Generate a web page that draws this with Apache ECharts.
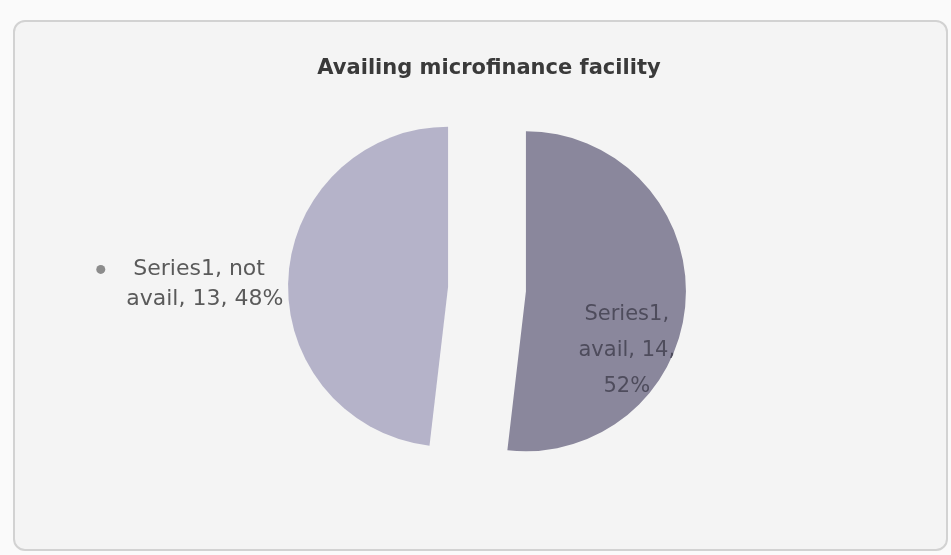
<!DOCTYPE html>
<html>
<head>
<meta charset="utf-8">
<title>Availing microfinance facility</title>
<script src="https://cdn.jsdelivr.net/npm/echarts@6/dist/echarts.min.js"></script>
<style>
  html, body { margin: 0; padding: 0; background: #fafafa; }
  #frame {
    position: absolute; left: 13px; top: 20px; width: 931px; height: 527px;
    border: 2px solid #d2d2d2; border-radius: 12px; background: #f4f4f4;
  }
  #chart { position: absolute; left: 0; top: 0; width: 951px; height: 555px; }
</style>
</head>
<body>
<div id="frame"></div>
<div id="chart"></div>
<script>
// Survey answers: how many respondents avail a microfinance facility
const seriesName = 'Series1';
const categories = ['avail', 'not avail'];
const counts = [14, 13];
const sliceColors = ['#8a879c', '#b5b3c9'];

const chart = echarts.init(document.getElementById('chart'));

const data = categories.map((name, i) => ({
  name: name,
  value: counts[i],
  selected: true,
  itemStyle: { color: sliceColors[i] }
}));

// Inside label for the first slice, outside label with key marker for the second
data[0].label = {
  position: 'inside',
  formatter: p => p.seriesName + ',\n' + p.name + ', ' + p.value + ',\n' + Math.round(p.percent) + '%',
  color: '#4e4c5c',
  fontSize: 21,
  lineHeight: 36,
  fontFamily: 'DejaVu Sans',
  align: 'center'
};
data[1].label = {
  position: 'outside',
  formatter: p => '{m|}{t|' + p.seriesName + ', ' + p.name.split(' ')[0] + '}\n{u|' +
    p.name.split(' ')[1] + ', ' + p.value + ', ' + Math.round(p.percent) + '%}',
  rich: {
    m: { width: 9, height: 9, borderRadius: 5, backgroundColor: '#8c8c8c', align: 'left' },
    t: { fontSize: 22, color: '#5a5a5a', fontFamily: 'DejaVu Sans', padding: [0, 0, 0, 28], align: 'left', lineHeight: 30 },
    u: { fontSize: 22, color: '#5a5a5a', fontFamily: 'DejaVu Sans', padding: [0, 0, 0, 30], align: 'left', lineHeight: 30 }
  }
};

chart.setOption({
  animation: false,
  title: {
    text: 'Availing microfinance facility',
    left: 484, top: 53, textAlign: 'center',
    textStyle: { fontFamily: 'DejaVu Sans', fontSize: 21, fontWeight: 'bold', color: '#3a3a3a' }
  },
  series: [{
    type: 'pie',
    name: seriesName,
    center: [487, 289],
    radius: 160,
    startAngle: 90,
    clockwise: true,
    selectedMode: 'multiple',
    selectedOffset: 39,
    select: { itemStyle: {} },
    emphasis: { disabled: true },
    labelLine: { show: false, length: 0, length2: 0 },
    label: { distanceToLabelLine: 0 },
    labelLayout: p => p.dataIndex === 0 ? { dx: 18, dy: 54 } : { dx: -5, dy: 7 },
    data: data
  }]
});
</script>
</body>
</html>
